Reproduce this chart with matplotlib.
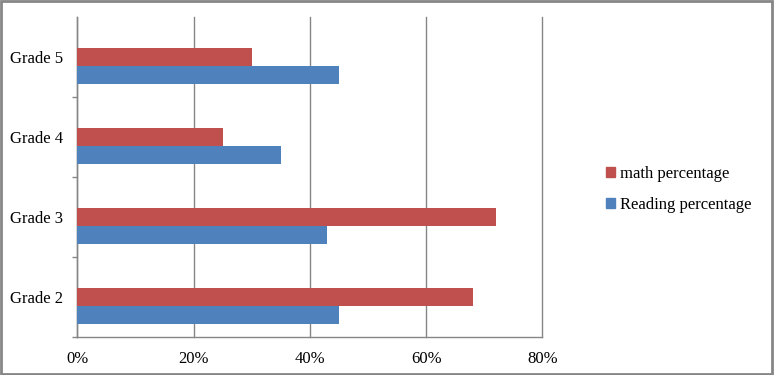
import numpy as np
import matplotlib.pyplot as plt
from matplotlib.patches import Rectangle, Patch


grades = ["Grade 2", "Grade 3", "Grade 4", "Grade 5"]
math_pct = [68, 72, 25, 30]
reading_pct = [45, 43, 35, 45]
x_ticks = [0, 20, 40, 60, 80]

RED = "#C0504D"
BLUE = "#4F81BD"
GRID = "#868686"


def main():
    plt.rcParams['font.family'] = ['Liberation Serif', 'DejaVu Serif']
    fig = plt.figure(figsize=(7.74, 3.75), dpi=100)
    ax = fig.add_axes([0.0999, 0.1021, 0.601, 0.8534])

    y = np.arange(len(grades))
    h = 0.225
    # red bar sits on the category centre, blue one just below it
    ax.barh(y, math_pct, height=h, color=RED, label="math percentage", zorder=3)
    ax.barh(y - h, reading_pct, height=h, color=BLUE, label="Reading percentage", zorder=3)

    ax.set_xlim(0, 80)
    ax.set_ylim(-0.5, len(grades) - 0.5)
    ax.set_xticks(x_ticks)
    ax.set_xticklabels(["%d%%" % v for v in x_ticks])
    ax.set_yticks(y)
    ax.set_yticklabels(grades)
    ax.set_yticks(np.arange(-0.5, len(grades) - 0.5, 1), minor=True)

    ax.tick_params(axis='x', length=0, pad=10, labelsize=12)
    ax.tick_params(axis='y', which='major', length=0, pad=10, labelsize=12)
    ax.tick_params(axis='y', which='minor', length=3.6, width=1, color=GRID, direction='out')

    ax.grid(axis='x', color=GRID, linewidth=1, zorder=0)
    for line in ax.get_xgridlines():
        line.set_clip_on(False)
    for s in ['top', 'right']:
        ax.spines[s].set_visible(False)
    for s in ['left', 'bottom']:
        ax.spines[s].set_color(GRID)
        ax.spines[s].set_linewidth(1)

    handles = [Patch(color=RED), Patch(color=BLUE)]
    fig.legend(handles, ["math percentage", "Reading percentage"],
               loc='center left', bbox_to_anchor=(0.763, 0.495), frameon=False,
               fontsize=12, handlelength=0.55, handleheight=0.55,
               handletextpad=0.3, labelspacing=0.9)

    # chart border
    fig.patches.append(Rectangle((0.001, 0.002), 0.997, 0.995, transform=fig.transFigure,
                                 fill=False, edgecolor=GRID, linewidth=2))

    fig.savefig("out.png", dpi=100)


if __name__ == "__main__":
    main()
